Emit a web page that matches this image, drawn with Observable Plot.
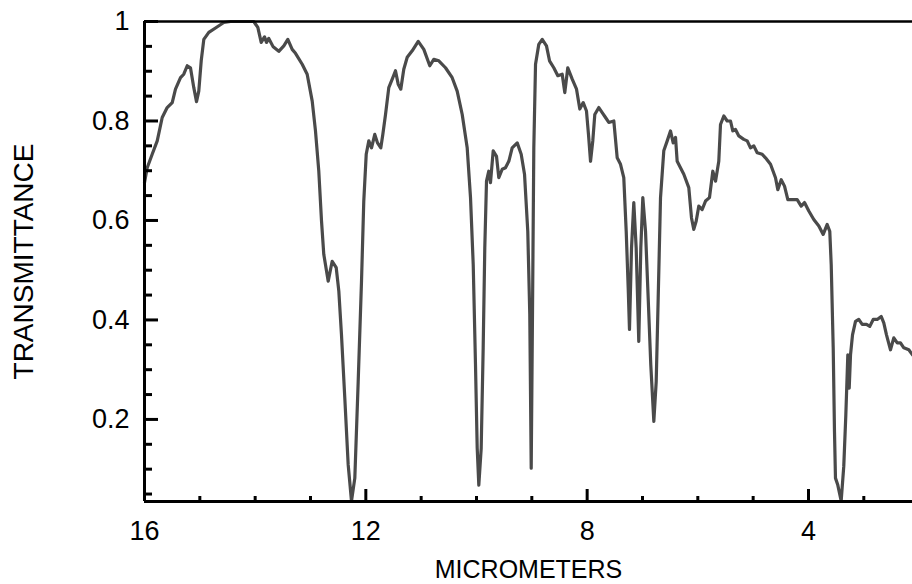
<!DOCTYPE html>
<html><head><meta charset="utf-8">
<script src="https://cdn.jsdelivr.net/npm/d3@7"></script>
<script src="https://cdn.jsdelivr.net/npm/@observablehq/plot@0.6"></script>
<style>body{margin:0;background:#fff}</style>
</head><body><div id="chart"></div>
<script>
const micrometers = [16.000,15.951,15.861,15.770,15.680,15.590,15.499,15.440,15.349,15.290,
15.228,15.169,15.109,15.060,15.019,14.975,14.928,14.838,14.717,14.567,
14.446,14.325,14.205,14.025,13.952,13.891,13.831,13.795,13.754,13.674,
13.573,13.482,13.410,13.331,13.271,13.150,13.060,12.969,12.910,12.850,12.801,12.760,12.680,12.608,
12.535,12.488,12.440,12.380,12.319,12.259,12.199,12.138,12.078,12.037,
11.993,11.946,11.897,11.838,11.789,11.729,11.693,11.644,11.585,11.512,
11.464,11.415,11.368,11.314,11.252,11.162,11.053,10.952,10.844,10.772,
10.681,10.560,10.439,
10.349,10.258,10.168,10.108,10.059,10.018,9.987,9.958,9.915,9.879,
9.850,9.819,9.778,9.747,9.698,9.638,9.597,9.535,9.476,9.416,
9.355,9.264,9.192,9.132,9.073,9.037,9.011,8.988,8.964,8.933,
8.874,8.812,8.735,8.680,8.603,8.530,8.451,8.404,8.350,8.270,
8.192,8.133,8.071,8.012,7.976,7.939,7.898,7.862,7.789,7.728,7.668,
7.609,7.518,7.457,7.397,7.338,7.294,7.258,7.235,7.198,7.157,
7.114,7.067,7.030,6.994,6.945,6.897,6.850,6.795,6.752,6.716,
6.674,6.615,6.553,6.494,6.445,6.403,6.373,6.313,6.253,6.163,
6.114,6.073,6.029,5.982,5.921,5.861,5.789,5.729,5.680,5.621,
5.590,5.530,5.469,5.409,5.368,5.319,5.259,5.169,5.107,5.048,
4.988,4.927,4.836,4.777,
4.686,4.596,4.554,4.493,4.433,4.373,4.294,4.204,4.132,4.072,
3.994,3.904,3.813,3.734,3.662,3.615,3.589,3.553,3.530,3.512,
3.470,3.409,3.362,3.325,3.289,3.264,3.240,3.204,3.150,3.091,
3.029,2.951,2.892,2.830,2.758,2.686,2.639,2.590,2.518,2.458,
2.396,2.337,2.277,2.187,2.120];

const transmittance = [0.676,0.706,0.733,0.760,0.807,0.827,0.837,0.864,0.887,0.894,
0.911,0.907,0.867,0.839,0.860,0.921,0.964,0.978,0.987,0.998,
1.000,1.000,1.000,1.000,0.988,0.958,0.969,0.958,0.966,0.949,
0.940,0.951,0.964,0.944,0.936,0.914,0.894,0.840,0.780,0.699,0.599,0.532,0.478,0.518,
0.505,0.458,0.370,0.243,0.109,0.036,0.082,0.276,0.478,0.639,
0.733,0.760,0.746,0.773,0.756,0.746,0.773,0.813,0.867,0.887,
0.901,0.874,0.864,0.904,0.928,0.941,0.960,0.944,0.911,0.924,
0.921,0.907,0.887,
0.860,0.813,0.746,0.646,0.511,0.310,0.142,0.068,0.142,0.344,
0.545,0.679,0.699,0.676,0.740,0.729,0.686,0.703,0.706,0.719,
0.746,0.756,0.733,0.693,0.578,0.411,0.102,0.411,0.746,0.914,
0.954,0.964,0.951,0.921,0.907,0.891,0.894,0.857,0.907,0.884,
0.864,0.824,0.837,0.820,0.773,0.719,0.760,0.813,0.827,0.817,0.807,
0.797,0.800,0.726,0.713,0.686,0.578,0.464,0.381,0.545,0.636,
0.545,0.357,0.545,0.646,0.578,0.444,0.310,0.196,0.276,0.444,
0.646,0.740,0.760,0.780,0.756,0.767,0.719,0.706,0.693,0.666,
0.605,0.582,0.599,0.629,0.622,0.639,0.646,0.699,0.679,0.719,
0.793,0.810,0.800,0.800,0.780,0.783,0.770,0.763,0.760,0.746,
0.750,0.736,0.733,0.726,
0.713,0.686,0.662,0.682,0.669,0.642,0.642,0.642,0.629,0.636,
0.619,0.602,0.589,0.572,0.592,0.578,0.511,0.344,0.176,0.082,
0.068,0.036,0.106,0.209,0.330,0.263,0.330,0.370,0.397,0.401,
0.391,0.391,0.387,0.401,0.401,0.407,0.394,0.370,0.340,0.364,
0.354,0.354,0.344,0.340,0.330];

const xMajorTicks = [16, 12, 8, 4];
const xTickLabels = ["16", "12", "8", "4"];
const xMinorTicks = [15, 14, 13, 11, 10, 9, 7, 6, 5, 3];
const yMajorTicks = [0.2, 0.4, 0.6, 0.8, 1];
const yTickLabels = ["0.2", "0.4", "0.6", "0.8", "1"];
const yMinorTicks = [0.05, 0.1, 0.15, 0.25, 0.3, 0.35, 0.45, 0.5, 0.55, 0.65, 0.7, 0.75, 0.85, 0.9, 0.95];
const xDomain = [16, 2.12];
const yDomain = [0.035, 1];
const xTitle = "MICROMETERS";
const yTitle = "TRANSMITTANCE";

const data = micrometers.map((x, i) => ({x, y: transmittance[i]}));

const chart = Plot.plot({
  width: 912,
  height: 584,
  marginLeft: 144,
  marginRight: 0,
  marginTop: 21,
  marginBottom: 83,
  style: {fontFamily: "'Liberation Sans', Arial, sans-serif", background: "#fff", color: "#000"},
  x: {domain: xDomain},
  y: {domain: yDomain},
  marks: [
    Plot.line(data, {x: "x", y: "y", stroke: "#4a4a4a", strokeWidth: 3.2, strokeLinejoin: "round"}),
    Plot.ruleX([xDomain[0]], {strokeWidth: 3, stroke: "#000"}),
    Plot.ruleY([yDomain[0]], {strokeWidth: 3, stroke: "#000"}),
    Plot.ruleY([1], {strokeWidth: 2.6, stroke: "#000"}),
    Plot.axisY(yMinorTicks, {tickSize: -8, strokeWidth: 3, fill: "none", label: null}),
    Plot.axisY(yMajorTicks, {tickSize: -14, strokeWidth: 3, fill: "none", label: null}),
    Plot.axisY(yMajorTicks, {tickSize: 0, tickPadding: 15, fontSize: 27, label: null,
      tickFormat: d => yTickLabels[yMajorTicks.indexOf(d)]}),
    Plot.axisX(xMinorTicks, {tickSize: -5, strokeWidth: 3, fill: "none", label: null}),
    Plot.axisX(xMajorTicks, {tickSize: -12, strokeWidth: 3, fill: "none", label: null}),
    Plot.axisX(xMajorTicks, {tickSize: 0, tickPadding: 19, fontSize: 27, label: null,
      tickFormat: d => xTickLabels[xMajorTicks.indexOf(d)]}),
    Plot.text([yTitle], {text: d => d, frameAnchor: "left", textAnchor: "middle", rotate: -90, dx: -131, lineAnchor: "top", fontSize: 28}),
    Plot.text([xTitle], {text: d => d, frameAnchor: "bottom", textAnchor: "middle", dy: 59, lineAnchor: "top", fontSize: 25})
  ]
});
document.getElementById("chart").appendChild(chart);
</script>
</body></html>
